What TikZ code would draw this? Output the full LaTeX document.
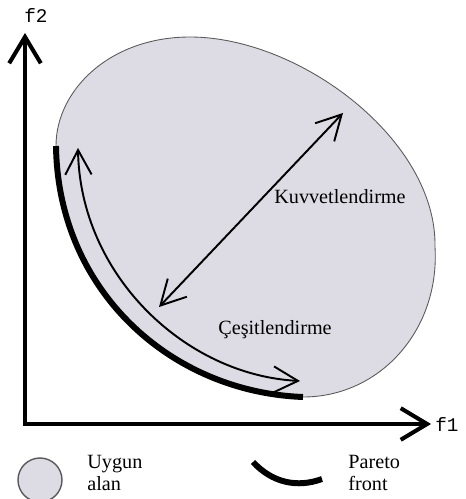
\documentclass[tikz,border=0pt]{standalone}
\usepackage{fontspec}
\setmainfont{Liberation Serif}
\setmonofont{Liberation Mono}
\usetikzlibrary{arrows.meta}
\definecolor{alanfill}{RGB}{221,220,229}
\definecolor{alanline}{RGB}{90,90,90}
\begin{document}
\begin{tikzpicture}[
		axis/.style={line width=2.3pt, {Straight Barb[length=15pt,width=18pt]}-{Straight Barb[length=15pt,width=18pt]}},
		twoway/.style={line width=1.1pt, {Straight Barb[length=14pt,width=15pt]}-{Straight Barb[length=14pt,width=15pt]}},
		front/.style={line width=3.4pt},
		lbl/.style={font=\fontsize{11.5}{13}\selectfont, inner sep=0pt, align=left}
	]
		\useasboundingbox (0,0) rectangle (9.32,9.98);
		% uygun alan
		\draw[alanline, fill=alanfill, line width=0.5pt] (1.12,7.06) .. controls (1.16,4.18) and (3.4,2.14) .. (6.06,2.04)
			.. controls (7.6,2.04) and (8.8,3.38) .. (8.7,5.04)
			.. controls (8.74,7.18) and (6.0,9.24) .. (3.8,9.24)
			.. controls (2.2,9.24) and (1.12,8.18) .. (1.12,7.06);
		% pareto front
		\coordinate (pf1) at (1.12,7.06);
		\coordinate (pf2) at (6.06,2.04);
		\draw[front] (pf1) .. controls (1.16,4.18) and (3.4,2.14) .. (pf2);
		% axes
		\coordinate (O) at (0.5,1.5);
		\coordinate (ytip) at (0.5,9.32);
		\coordinate (xtip) at (8.62,1.5);
		\draw[axis, line join=miter] (ytip) -- (O) -- (xtip);
		\node[font=\ttfamily\fontsize{11}{13}\selectfont] (f2) at (0.72,9.68) {f2};
		\node[font=\ttfamily\fontsize{11}{13}\selectfont, anchor=west, inner sep=0pt] (f1) at (8.7,1.5) {f1};
		% kuvvetlendirme
		\coordinate (k1) at (3.18,3.84);
		\coordinate (k2) at (6.86,7.72);
		\draw[twoway] (k1) -- (k2);
		\node[lbl] (kuv) at (6.8,6.04) {Kuvvetlendirme};
		% cesitlendirme
		\coordinate (c1) at (1.56,7.02);
		\coordinate (c2) at (6.0,2.36);
		\draw[twoway] (c1) .. controls (1.6,4.48) and (3.7,2.48) .. (c2);
		\node[lbl] (ces) at (5.5,3.38) {Çeşitlendirme};
		% legend
		\node[circle, draw=alanline, fill=alanfill, line width=0.8pt, minimum size=0.88cm, inner sep=0pt] (legalan) at (0.8,0.38) {};
		\node[lbl, anchor=west] (txtalan) at (1.74,0.52) {Uygun\\alan};
		\coordinate (lp1) at (5.06,0.74);
		\coordinate (lp2) at (6.44,0.4);
		\draw[front] (lp1) .. controls (5.45,0.32) and (5.95,0.22) .. (lp2);
		\node[lbl, anchor=west] (txtfront) at (6.96,0.52) {Pareto\\front};
	\end{tikzpicture}
\end{document}
